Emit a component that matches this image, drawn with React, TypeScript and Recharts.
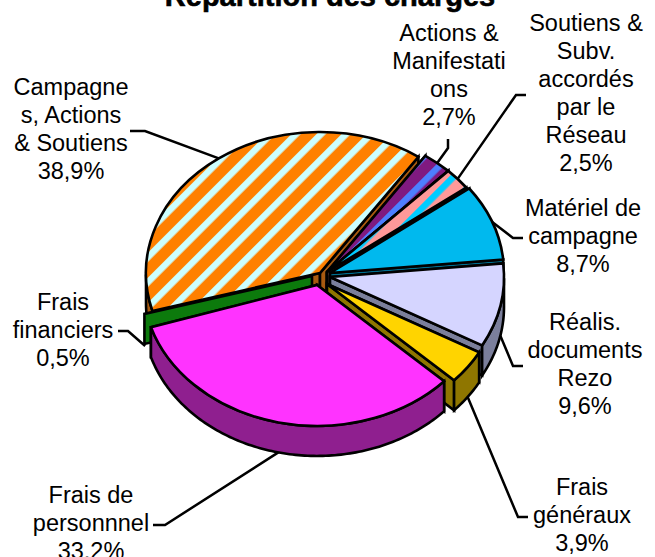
import { PieChart, Pie } from "recharts";

const categories = [
  "Campagnes, Actions & Soutiens",
  "Actions & Manifestations",
  "Soutiens & Subv. accordés par le Réseau",
  "Matériel de campagne",
  "Réalis. documents Rezo",
  "Frais généraux",
  "Frais de personnnel",
  "Frais financiers",
];
const shares = [38.9, 2.7, 2.5, 8.7, 9.6, 3.9, 33.2, 0.5];

// the way the source chart wraps each label
const labelLines = [
  ["Campagne", "s, Actions", "& Soutiens"],
  ["Actions &", "Manifestati", "ons"],
  ["Soutiens &", "Subv.", "accordés", "par le", "Réseau"],
  ["Matériel de", "campagne"],
  ["Réalis.", "documents", "Rezo"],
  ["Frais", "généraux"],
  ["Frais de", "personnnel"],
  ["Frais", "financiers"],
];

const topFills = [
  "url(#stripeOrange)",
  "url(#stripePurple)",
  "url(#stripePink)",
  "#00b9ee",
  "#d5d5ff",
  "#ffd400",
  "#ff33ff",
  "#0c7a0c",
];
const sideFills = ["#a85a10", "#4a1a60", "#a06060", "#006f90", "#7b7f9c", "#8f7600", "#8f1f8f", "#0c7a0c"];

// how far each slice is pulled out of the pie, in px
const explode = [
  [-4, -5],
  [3, -6],
  [3, -6],
  [6, -5],
  [6, -1],
  [3, 6],
  [-7, 7],
  [-12, -2],
];

// label centre x, first line y, leader elbow and leader end
const labelLayout = [
  { x: 71, y: 87, leader: [[145, 131], [130, 131]] },
  { x: 449, y: 33, leader: [[448, 148], [448, 139]] },
  { x: 586, y: 23, leader: [[516, 95], [526, 95]] },
  { x: 583, y: 208, leader: [[513, 238], [523, 238]] },
  { x: 585, y: 322, leader: [[513, 366], [523, 366]] },
  { x: 582, y: 487, leader: [[518, 517], [528, 517]] },
  { x: 91, y: 495, leader: [[165, 525], [153, 525]] },
  { x: 63, y: 302, leader: [[128, 331], [118, 331]] },
];

const tableData = categories.map((name, i) => ({ name, value: shares[i] }));

const PERSONNEL = 6; // redrawn last, its top hides the cut wall of the thin green slice
const FINANCIERS = 7; // so thin that only its cut wall shows, as a plain green strip
const SQUASH = 0.81;
const DEPTH = 30;
const RAD = Math.PI / 180;
const FONT = "'Liberation Sans', Arial, sans-serif";

function project(cx: number, cy: number, r: number, deg: number) {
  return [cx + r * Math.cos(deg * RAD), cy - r * Math.sin(deg * RAD) * SQUASH];
}

function Slice3D(props: any) {
  const { cx, cy, outerRadius: r, startAngle, endAngle, index } = props;
  const ox = cx + explode[index][0];
  const oy = cy + explode[index][1];
  const [ax, ay] = project(ox, oy, r, startAngle);
  const [bx, by] = project(ox, oy, r, endAngle);
  const ry = r * SQUASH;
  const large = Math.abs(startAngle - endAngle) > 180 ? 1 : 0;
  const line = { stroke: "#000", strokeWidth: 2.6, strokeLinejoin: "miter" as const };

  const cut = (x: number, y: number) =>
    `${ox},${oy} ${x},${y} ${x},${y + DEPTH} ${ox},${oy + DEPTH}`;

  if (index === FINANCIERS) {
    return <polygon points={cut(bx, by)} fill={sideFills[index]} {...line} />;
  }

  // outer wall, only the part that faces the viewer (lower half of the ellipse)
  const norm = (d: number) => ((d % 360) + 360) % 360;
  let wall = null;
  const steps: number[] = [];
  for (let d = startAngle; d >= endAngle; d -= 1) steps.push(d);
  steps.push(endAngle);
  const front = steps.filter((d) => norm(d) >= 180);
  if (front.length > 1) {
    const upper = front.map((d) => project(ox, oy, r, d));
    const lower = upper.map(([x, y]) => [x, y + DEPTH]).reverse();
    wall = (
      <polygon points={[...upper, ...lower].map((p) => p.join(",")).join(" ")} fill={sideFills[index]} {...line} />
    );
  }

  return (
    <g>
      <polygon points={cut(ax, ay)} fill={sideFills[index]} {...line} />
      <polygon points={cut(bx, by)} fill={sideFills[index]} {...line} />
      {wall}
      <path
        d={`M${ox},${oy} L${ax},${ay} A${r},${ry} 0 ${large} 1 ${bx},${by} Z`}
        fill={topFills[index]}
        {...line}
      />
    </g>
  );
}

function BackSlices(props: any) {
  return props.index === PERSONNEL ? <g /> : <Slice3D {...props} />;
}

function FrontSlice(props: any) {
  return props.index === PERSONNEL ? <Slice3D {...props} /> : <g />;
}

function SliceLabel(props: any) {
  const { cx, cy, outerRadius: r, midAngle, index, value } = props;
  const layout = labelLayout[index];
  const [sx, sy0] = project(cx + explode[index][0], cy + explode[index][1], r, midAngle);
  const sy = Math.sin(midAngle * RAD) < 0 ? sy0 + DEPTH : sy0;
  const pts = [[sx, sy], ...layout.leader];
  const rows = [...labelLines[index], `${value.toFixed(1).replace(".", ",")}%`];
  return (
    <g>
      <polyline points={pts.map((p) => p.join(",")).join(" ")} fill="none" stroke="#000" strokeWidth={2.5} />
      <text x={layout.x} y={layout.y} textAnchor="middle" fontFamily={FONT} fontSize={23.5} fill="#000">
        {rows.map((row, i) => (
          <tspan key={i} x={layout.x} y={layout.y + 28 * i} dy="0.35em">
            {row}
          </tspan>
        ))}
      </text>
    </g>
  );
}

function Stripes({ id, base, stripe }: { id: string; base: string; stripe: string }) {
  return (
    <pattern id={id} patternUnits="userSpaceOnUse" width={17.7} height={17.7} patternTransform="rotate(45)">
      <rect width={17.7} height={17.7} fill={base} />
      <rect width={6.5} height={17.7} fill={stripe} />
    </pattern>
  );
}

export default function App() {
  const pieProps = {
    data: tableData,
    dataKey: "value",
    nameKey: "name",
    cx: 324,
    cy: 278,
    outerRadius: 174,
    startAngle: 195.6,
    endAngle: -164.4,
    isAnimationActive: false,
  };
  return (
    <div style={{ position: "absolute", left: 0, top: 0, width: 655, height: 557, background: "#fff" }}>
      <PieChart width={655} height={557} margin={{ top: 0, right: 0, bottom: 0, left: 0 }}>
        <defs>
          <Stripes id="stripeOrange" base="#ff8000" stripe="#ccffff" />
          <Stripes id="stripePurple" base="#801a80" stripe="#4d7fff" />
          <Stripes id="stripePink" base="#ff9999" stripe="#00ccff" />
        </defs>
        <text
          x={330}
          y={6}
          textAnchor="middle"
          fontFamily={FONT}
          fontWeight="bold"
          fontSize={29}
          fill="#000"
          stroke="#000"
          strokeWidth={0.6}
        >
          Répartition des charges
        </text>
        <Pie {...pieProps} shape={BackSlices} />
        <Pie {...pieProps} shape={FrontSlice} label={SliceLabel} labelLine={false} />
      </PieChart>
    </div>
  );
}
